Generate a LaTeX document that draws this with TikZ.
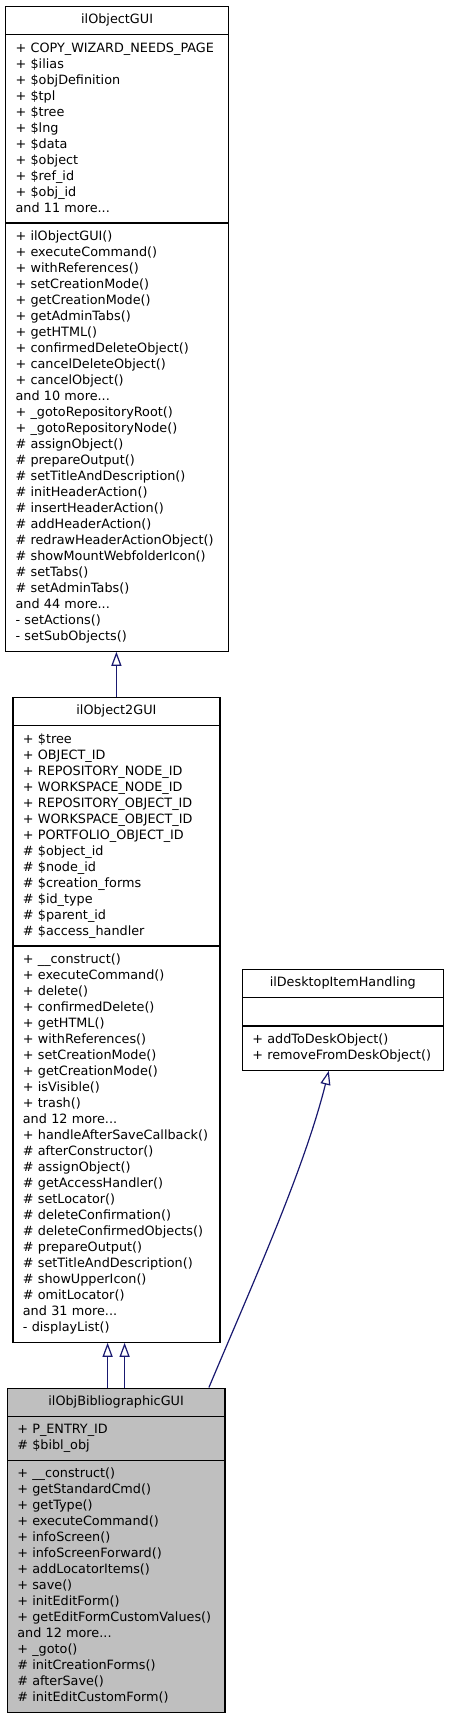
\documentclass[tikz,border=0pt]{standalone}
\usepackage{fontspec}
\newfontfamily\umlfont{DejaVu Sans}
\usetikzlibrary{shapes.multipart,arrows.meta}
\definecolor{edgeblue}{RGB}{25,25,112}
\definecolor{classgray}{RGB}{191,191,191}
\newcommand{\classname}[1]{\makebox[\linewidth]{\strut #1}}
\tikzset{
  classbox/.style={rectangle split, rectangle split parts=3, draw=black,
    line width=1.2pt, anchor=north west, inner xsep=10pt, inner ysep=5.5pt,
    align=left, font={\umlfont\fontsize{12.8}{16}\selectfont}},
  extends/.style={draw=edgeblue, line width=1.2pt,
    -{Triangle[open,length=14pt,width=10pt]}}
}
\begin{document}
\begin{tikzpicture}[x=1pt,y=-1pt]
  \useasboundingbox (0,0) rectangle (448,1715);

  \node[classbox, text width=203pt] (objectgui) at (5,6)
    {\classname{ilObjectGUI}
     \nodepart{two}\strut + COPY\_WIZARD\_NEEDS\_PAGE\\
     + \$ilias\\
     + \$objDefinition\\
     + \$tpl\\
     + \$tree\\
     + \$lng\\
     + \$data\\
     + \$object\\
     + \$ref\_id\\
     + \$obj\_id\\
     and 11 more...\strut
     \nodepart{three}\strut + ilObjectGUI()\\
     + executeCommand()\\
     + withReferences()\\
     + setCreationMode()\\
     + getCreationMode()\\
     + getAdminTabs()\\
     + getHTML()\\
     + confirmedDeleteObject()\\
     + cancelDeleteObject()\\
     + cancelObject()\\
     and 10 more...\\
     + \_gotoRepositoryRoot()\\
     + \_gotoRepositoryNode()\\
     \# assignObject()\\
     \# prepareOutput()\\
     \# setTitleAndDescription()\\
     \# initHeaderAction()\\
     \# insertHeaderAction()\\
     \# addHeaderAction()\\
     \# redrawHeaderActionObject()\\
     \# showMountWebfolderIcon()\\
     \# setTabs()\\
     \# setAdminTabs()\\
     and 44 more...\\
     - setActions()\\
     - setSubObjects()\strut};

  \node[classbox, text width=187pt] (object2gui) at (12.3,697)
    {\classname{ilObject2GUI}
     \nodepart{two}\strut + \$tree\\
     + OBJECT\_ID\\
     + REPOSITORY\_NODE\_ID\\
     + WORKSPACE\_NODE\_ID\\
     + REPOSITORY\_OBJECT\_ID\\
     + WORKSPACE\_OBJECT\_ID\\
     + PORTFOLIO\_OBJECT\_ID\\
     \# \$object\_id\\
     \# \$node\_id\\
     \# \$creation\_forms\\
     \# \$id\_type\\
     \# \$parent\_id\\
     \# \$access\_handler\strut
     \nodepart{three}\strut + \_\_construct()\\
     + executeCommand()\\
     + delete()\\
     + confirmedDelete()\\
     + getHTML()\\
     + withReferences()\\
     + setCreationMode()\\
     + getCreationMode()\\
     + isVisible()\\
     + trash()\\
     and 12 more...\\
     + handleAfterSaveCallback()\\
     \# afterConstructor()\\
     \# assignObject()\\
     \# getAccessHandler()\\
     \# setLocator()\\
     \# deleteConfirmation()\\
     \# deleteConfirmedObjects()\\
     \# prepareOutput()\\
     \# setTitleAndDescription()\\
     \# showUpperIcon()\\
     \# omitLocator()\\
     and 31 more...\\
     - displayList()\strut};

  \node[classbox, text width=181pt] (desktopitem) at (241.7,969)
    {\classname{ilDesktopItemHandling}
     \nodepart{two}\strut
     \nodepart{three}\strut + addToDeskObject()\\
     + removeFromDeskObject()\strut};

  \node[classbox, fill=classgray, text width=197.6pt] (bibliographicgui) at (6.7,1387.5)
    {\classname{ilObjBibliographicGUI}
     \nodepart{two}\strut + P\_ENTRY\_ID\\
     \# \$bibl\_obj\strut
     \nodepart{three}\strut + \_\_construct()\\
     + getStandardCmd()\\
     + getType()\\
     + executeCommand()\\
     + infoScreen()\\
     + infoScreenForward()\\
     + addLocatorItems()\\
     + save()\\
     + initEditForm()\\
     + getEditFormCustomValues()\\
     and 12 more...\\
     + \_goto()\\
     \# initCreationForms()\\
     \# afterSave()\\
     \# initEditCustomForm()\strut};

  \draw[extends] (object2gui.north) -- (object2gui.north |- objectgui.south);
  \draw[extends] ([xshift=-8.5pt]bibliographicgui.north) -- ([xshift=-8.5pt]bibliographicgui.north |- object2gui.south);
  \draw[extends] ([xshift=8.5pt]bibliographicgui.north) -- ([xshift=8.5pt]bibliographicgui.north |- object2gui.south);
  \draw[extends] ([xshift=-16.6pt]bibliographicgui.north east)
    .. controls +(42,-100) and +(-25,100) .. ([xshift=-14pt]desktopitem.south);
\end{tikzpicture}
\end{document}
